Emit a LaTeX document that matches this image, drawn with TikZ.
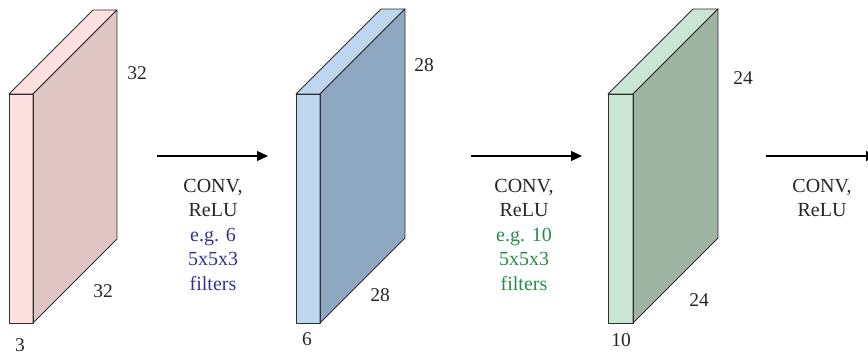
\documentclass[tikz,border=0pt]{standalone}
\usepackage{fontspec}
\setmainfont{Liberation Serif}
\usetikzlibrary{arrows.meta}
\definecolor{pinkfront}{RGB}{252,224,224}
\definecolor{pinkside}{RGB}{224,197,197}
\definecolor{bluefront}{RGB}{189,215,238}
\definecolor{blueside}{RGB}{142,168,193}
\definecolor{greenfront}{RGB}{201,229,211}
\definecolor{greenside}{RGB}{158,181,164}
\definecolor{edge}{RGB}{50,45,45}
\definecolor{filtblue}{RGB}{55,50,150}
\definecolor{filtgreen}{RGB}{38,140,72}
\tikzset{
  facestyle/.style={draw=edge, line width=0.9pt, line join=round},
  dimlabel/.style={font=\fontsize{19.5}{21}\selectfont, text=black!85, inner sep=0pt},
  oplabel/.style={font=\fontsize{20}{24.5}\selectfont, text=black!85, align=center, inner sep=0pt},
  flow/.style={line width=1.2pt, -{Triangle[length=11pt,width=10pt]}}
}
% one activation volume drawn as a slab
\newcommand{\convslab}[5]{%
  % #1 left x, #2 right x of front, #3 front colour, #4 side colour, #5 depth
  \fill[#3] (#1,94) rectangle (#2,323);
  \draw[facestyle, fill=#3] (#1,94) -- ({#1+#5},{94-#5}) -- ({#2+#5},{94-#5}) -- (#2,94) -- cycle;
  \draw[facestyle, fill=#4] (#2,94) -- ({#2+#5},{94-#5}) -- ({#2+#5},{323-#5}) -- (#2,323) -- cycle;
  \draw[facestyle] (#1,94) rectangle (#2,323);
}
\begin{document}
\begin{tikzpicture}[x=1pt, y=-1pt]
  \useasboundingbox (0,0) rectangle (868,355);

  % three activation volumes
  \convslab{9}{33}{pinkfront}{pinkside}{84}
  \convslab{296}{320}{bluefront}{blueside}{85}
  \convslab{608}{633}{greenfront}{greenside}{85}

  % size labels
  \node[dimlabel] (h1) at (137,73) {32};
  \node[dimlabel] (w1) at (103,291) {32};
  \node[dimlabel] (d1) at (20,345) {3};
  \node[dimlabel] (h2) at (424,65) {28};
  \node[dimlabel] (w2) at (380,295) {28};
  \node[dimlabel] (d2) at (307,339) {6};
  \node[dimlabel] (h3) at (743,78) {24};
  \node[dimlabel] (w3) at (699,300) {24};
  \node[dimlabel] (d3) at (621,340) {10};

  % arrows between volumes
  \coordinate (a1s) at (157,156);
  \coordinate (a1e) at (268,156);
  \coordinate (a2s) at (471,156);
  \coordinate (a2e) at (582,156);
  \coordinate (a3s) at (766,156);
  \coordinate (a3e) at (877,156);
  \draw[flow] (a1s) -- (a1e);
  \draw[flow] (a2s) -- (a2e);
  \draw[flow] (a3s) -- (a3e);

  % operation captions
  \node[oplabel, anchor=north] (op1) at (213,179)
    {CONV,\\ReLU\\\textcolor{filtblue}{e.g. 6}\\\textcolor{filtblue}{5x5x3}\\\textcolor{filtblue}{filters}};
  \node[oplabel, anchor=north] (op2) at (524,179)
    {CONV,\\ReLU\\\textcolor{filtgreen}{e.g. 10}\\\textcolor{filtgreen}{5x5x3}\\\textcolor{filtgreen}{filters}};
  \node[oplabel, anchor=north] (op3) at (822,179)
    {CONV,\\ReLU};
\end{tikzpicture}
\end{document}
